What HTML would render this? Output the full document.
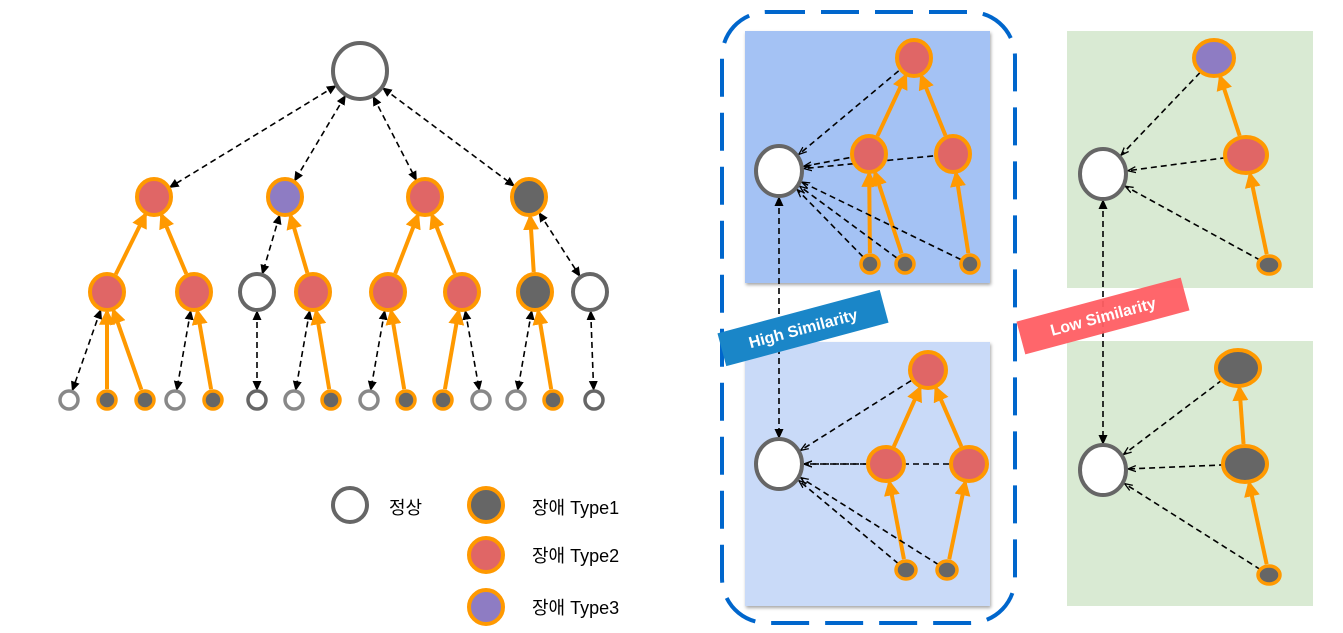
<!DOCTYPE html>
<html><head><meta charset="utf-8"><style>
body{margin:0;background:#fff;width:1343px;height:633px;overflow:hidden}
svg{display:block}
text{font-family:"Liberation Sans","Noto Sans CJK KR",sans-serif}
</style></head><body>
<svg id="s" width="1343" height="633" viewBox="0 0 1343 633" xmlns="http://www.w3.org/2000/svg">
<defs>
<marker id="ao" markerWidth="4" markerHeight="4" refX="3.2" refY="2" orient="auto-start-reverse" markerUnits="strokeWidth"><path d="M0,0 L4,2 L0,4 z" fill="#ff9900"/></marker>
<marker id="ab" markerWidth="10" markerHeight="10" refX="8" refY="5" orient="auto-start-reverse" markerUnits="userSpaceOnUse"><path d="M0,0.5 L10,5 L0,9.5 z" fill="#000"/></marker>
<marker id="av" markerWidth="10" markerHeight="10" refX="8" refY="5" orient="auto-start-reverse" markerUnits="userSpaceOnUse"><path d="M0,2 L8,5 L0,8" fill="none" stroke="#000" stroke-width="1.3"/></marker>
<filter id="sh"><feDropShadow dx="1" dy="2" stdDeviation="1.5" flood-opacity="0.35"/></filter>
</defs>
<rect x="745" y="31" width="245" height="252" fill="#a4c2f4" filter="url(#sh)"/>
<rect x="745" y="342" width="245" height="264" fill="#c9daf8" filter="url(#sh)"/>
<rect x="1067" y="31" width="246" height="257" fill="#d9ead3"/>
<rect x="1067" y="341" width="246" height="265" fill="#d9ead3"/>
<rect x="722" y="12" width="293" height="611" rx="45" fill="none" stroke="#0066cc" stroke-width="4" stroke-dasharray="38,16"/>
<g id="edges"></g>
<g id="nodes"></g>
<g transform="translate(803,328) rotate(-15)"><rect x="-84" y="-17" width="168" height="34" fill="#1a86c8"/><text x="0" y="6" font-size="16" font-weight="bold" fill="#fff" text-anchor="middle">High Similarity</text></g>
<g transform="translate(1103,316) rotate(-15)"><rect x="-85" y="-17" width="170" height="34" fill="#ff5e63" opacity="0.95"/><text x="0" y="6" font-size="16" font-weight="bold" fill="#fff" text-anchor="middle">Low Similarity</text></g>
<text x="389" y="514" font-size="18">정상</text>
<text x="532" y="514" font-size="18">장애 Type1</text>
<text x="532" y="562" font-size="18">장애 Type2</text>
<text x="532" y="614" font-size="18">장애 Type3</text>
</svg>
<script>
var C={w:['#fff','#666'],W:['#fff','#888'],d:['#666','#ff9900'],r:['#e06666','#ff9900'],p:['#8e7cc3','#ff9900']};
var N={
R:[360,71,27,28,'w'],
a:[154,197,17,18,'r'],b:[285,197,17,18,'p'],c:[425,197,17,18,'r'],e:[529,197,17,18,'d'],
a1:[107,292,17,18,'r'],a2:[194,292,17,18,'r'],b1:[257,292,17,18,'w'],b2:[313,292,17,18,'r'],c1:[388,292,17,18,'r'],c2:[462,292,17,18,'r'],e1:[535,292,17,18,'d'],e2:[590,292,17,18,'w'],
l1:[69,400,9,9,'W'],l2:[107,400,9,9,'d'],l3:[145,400,9,9,'d'],l4:[175,400,9,9,'W'],l5:[213,400,9,9,'d'],l6:[257,400,9,9,'w'],l7:[294,400,9,9,'W'],l8:[331,400,9,9,'d'],l9:[369,400,9,9,'W'],l10:[406,400,9,9,'d'],l11:[443,400,9,9,'d'],l12:[481,400,9,9,'W'],l13:[516,400,9,9,'W'],l14:[553,400,9,9,'d'],l15:[594,400,9,9,'w'],
L1:[350,505,17,17,'w'],L2:[486,505,17,17,'d'],L3:[486,555,17,17,'r'],L4:[486,607,17,17,'p'],
P:[779,171,23,25,'w'],Pa:[914,58,17,18,'r'],Pb:[869,154,17,18,'r'],Pc:[953,154,17,18,'r'],Pd:[870,264,9,9,'d'],Pe:[905,264,9,9,'d'],Pf:[970,264,9,9,'d'],
Q:[779,464,23,25,'w'],Qa:[928,370,18,18,'r'],Qb:[886,464,18,17,'r'],Qc:[969,464,18,17,'r'],Qd:[906,570,10,9,'d'],Qe:[947,570,10,9,'d'],
G:[1103,174,23,25,'w'],Ga:[1214,58,20,18,'p'],Gb:[1246,155,21,18,'r'],Gc:[1269,265,11,9,'d'],
H:[1103,470,23,25,'w'],Ha:[1238,368,22,18,'d'],Hb:[1245,464,22,18,'d'],Hc:[1269,575,11,9,'d']};
var ns='http://www.w3.org/2000/svg',E=document.getElementById('edges'),G=document.getElementById('nodes');
function bd(n,dx,dy){var L=Math.hypot(dx,dy);var t=1/Math.sqrt((dx*dx)/(n[2]*n[2])+(dy*dy)/(n[3]*n[3]));return t*L+2;}
function ln(a,b,type,two,cut){var A=N[a],B=N[b],dx=B[0]-A[0],dy=B[1]-A[1],L=Math.hypot(dx,dy),ux=dx/L,uy=dy/L;
var sa=cut===false?0:bd(A,dx,dy),sb=bd(B,dx,dy);var l=document.createElementNS(ns,'line');
l.setAttribute('x1',A[0]+ux*sa);l.setAttribute('y1',A[1]+uy*sa);l.setAttribute('x2',B[0]-ux*sb);l.setAttribute('y2',B[1]-uy*sb);
if(type=='o'){l.setAttribute('stroke','#ff9900');l.setAttribute('stroke-width','4');l.setAttribute('marker-end','url(#ao)');}
else{l.setAttribute('stroke','#000');l.setAttribute('stroke-width','1.6');l.setAttribute('stroke-dasharray','6,4');
var m=type=='v'?'url(#av)':'url(#ab)';l.setAttribute('marker-end',m);if(two)l.setAttribute('marker-start',m);}
E.appendChild(l);}
[['R','a'],['R','b'],['R','c'],['R','e'],['b','b1'],['e','e2'],['a1','l1'],['a2','l4'],['b1','l6'],['b2','l7'],['c1','l9'],['c2','l12'],['e1','l13'],['e2','l15'],['P','Q'],['G','H']].forEach(function(p){ln(p[0],p[1],'b',true);});
[['a1','a'],['a2','a'],['b2','b'],['c1','c'],['c2','c'],['e1','e'],['l2','a1'],['l3','a1'],['l5','a2'],['l8','b2'],['l10','c1'],['l11','c2'],['l14','e1'],
['Pb','Pa'],['Pc','Pa'],['Pd','Pb'],['Pe','Pb'],['Pf','Pc'],['Qb','Qa'],['Qc','Qa'],['Qd','Qb'],['Qe','Qc'],['Gb','Ga'],['Gc','Gb'],['Hb','Ha'],['Hc','Hb']].forEach(function(p){ln(p[0],p[1],'o');});
[['Pa','P'],['Pb','P'],['Pc','P'],['Pd','P'],['Pe','P'],['Pf','P'],['Qa','Q'],['Qb','Q'],['Qc','Q'],['Qd','Q'],['Qe','Q'],['Ga','G'],['Gb','G'],['Gc','G'],['Ha','H'],['Hb','H'],['Hc','H']].forEach(function(p){ln(p[0],p[1],'v',false,false);});
for(var k in N){var n=N[k],e=document.createElementNS(ns,'ellipse');e.setAttribute('cx',n[0]);e.setAttribute('cy',n[1]);e.setAttribute('rx',n[2]);e.setAttribute('ry',n[3]);
e.setAttribute('fill',C[n[4]][0]);e.setAttribute('stroke',C[n[4]][1]);e.setAttribute('stroke-width',n[2]<12?3.5:4);G.appendChild(e);}
</script>
</body></html>
